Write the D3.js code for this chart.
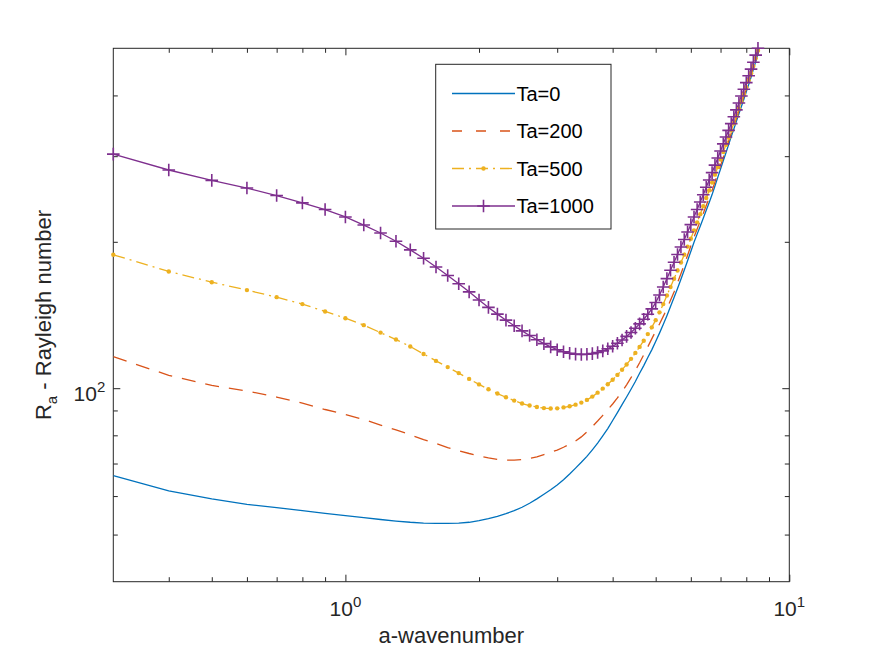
<!DOCTYPE html>
<html>
<head>
<meta charset="utf-8">
<script src="https://cdn.jsdelivr.net/npm/d3@7"></script>
<style>
  body { margin: 0; background: #ffffff; }
</style>
</head>
<body>
<div id="chart"></div>
<script>
//
// Rayleigh number vs wavenumber for four Taylor numbers (log-log)
//

////////////////////////////////////////////////////////////////////////
// Data

// wavenumbers a = 0.3 ... 8.6
let wavenumbers = [
  0.3, 0.4, 0.5, 0.6, 0.7, 0.8, 0.9, 1.0,
  1.1, 1.2, 1.3, 1.4, 1.5, 1.6, 1.7, 1.8, 1.9, 2.0,
  2.1, 2.2, 2.3, 2.4, 2.5, 2.6, 2.7, 2.8, 2.9, 3.0,
  3.1, 3.2, 3.3, 3.4, 3.5, 3.6, 3.7, 3.8, 3.9, 4.0,
  4.1, 4.2, 4.3, 4.4, 4.5, 4.6, 4.7, 4.8, 4.9, 5.0,
  5.1, 5.2, 5.3, 5.4, 5.5, 5.6, 5.7, 5.8, 5.9, 6.0,
  6.1, 6.2, 6.3, 6.4, 6.5, 6.6, 6.7, 6.8, 6.9, 7.0,
  7.1, 7.2, 7.3, 7.4, 7.5, 7.6, 7.7, 7.8, 7.9, 8.0,
  8.1, 8.2, 8.3, 8.4, 8.5, 8.6
];

let ra0 = [
  66.1, 61.5, 59.2, 57.7, 56.8, 56.0, 55.3, 54.7,
  54.2, 53.7, 53.3, 53.0, 52.8, 52.7, 52.7, 52.8, 53.0, 53.4,
  53.9, 54.5, 55.2, 56.0, 56.9, 58.0, 59.2, 60.5, 61.8, 63.2,
  64.8, 66.6, 68.5, 70.4, 72.4, 74.7, 77.1, 79.8, 82.6, 85.8,
  89.1, 92.5, 95.9, 99.5, 103.2, 107.3, 111.3, 115.6, 119.9, 124.7,
  129.8, 135.2, 141.0, 147.2, 153.6, 160.4, 167.5, 175.0, 182.9, 191.1,
  199.6, 207.4, 215.4, 223.7, 232.3, 241.0, 250.1, 260.5, 271.3, 282.4,
  293.5, 305.0, 317.0, 329.4, 341.3, 353.7, 366.5, 379.6, 392.9, 406.7,
  421.0, 435.9, 452.4, 469.5, 487.3, 505.8
];

let ra200 = [
  116.1, 106.3, 101.3, 98.7, 95.9, 93.2, 90.4, 88.3,
  86.2, 84.0, 82.1, 80.2, 78.4, 77.0, 75.5, 74.4, 73.4, 72.6,
  71.9, 71.4, 71.1, 71.1, 71.3, 71.7, 72.2, 73.0, 73.8, 74.6,
  75.6, 76.7, 77.9, 79.4, 81.3, 83.4, 85.6, 87.9, 90.3, 92.8,
  95.5, 98.4, 101.6, 105.1, 108.8, 112.8, 117.1, 121.6, 126.3, 131.0,
  135.5, 140.5, 145.7, 151.6, 157.7, 164.7, 171.9, 179.6, 187.6, 196.0,
  204.7, 212.6, 220.6, 228.8, 237.4, 246.1, 255.2, 265.5, 276.2, 287.2,
  298.3, 309.9, 321.9, 334.4, 346.3, 358.7, 371.5, 384.6, 398.0, 411.9,
  426.3, 441.3, 457.9, 475.1, 493.1, 511.8
];

let ra500 = [
  188.1, 173.8, 165.2, 159.1, 153.9, 148.9, 143.8, 139.3,
  134.8, 130.1, 125.9, 121.8, 117.6, 113.8, 110.5, 107.4, 104.5, 101.8,
  99.5, 97.5, 95.8, 94.3, 93.0, 92.1, 91.5, 91.0, 90.8, 90.9,
  91.3, 91.8, 92.5, 93.4, 94.6, 96.1, 97.9, 99.8, 101.9, 104.1,
  106.5, 109.1, 111.9, 114.9, 118.2, 121.6, 125.2, 129.2, 133.4, 138.0,
  143.2, 148.9, 155.1, 161.5, 167.9, 174.6, 181.3, 188.2, 195.5, 202.9,
  211.1, 219.3, 228.0, 236.8, 246.1, 255.1, 264.7, 274.9, 285.0, 295.2,
  305.9, 316.7, 327.5, 338.8, 350.7, 362.7, 375.6, 389.0, 402.1, 415.7,
  429.8, 444.4, 459.6, 477.0, 494.5, 512.5
];

let ra1000 = [
  303, 281, 267.5, 258, 249, 240.5, 233, 225,
  216.5, 208.5, 200.5, 192.5, 185, 177.5, 170.5, 164, 157.8, 151.8,
  146.6, 142.0, 138.0, 134.4, 131.2, 128.3, 125.8, 123.5, 121.6, 120.0,
  118.8, 118.0, 117.5, 117.3, 117.4, 117.8, 118.4, 119.3, 120.5, 122.0,
  123.7, 125.6, 127.8, 130.2, 132.8, 135.6, 138.6, 141.9, 145.6, 150.0,
  155.5, 161.5, 168, 174.8, 181.5, 188.3, 195.2, 202.2, 209.5, 217,
  225, 233, 241.5, 250, 259, 268, 277.5, 287.5, 297.5, 307.5,
  318, 328.5, 339, 350, 361.5, 373.5, 386, 399, 412, 425,
  439, 453, 468, 484, 500, 516
];

let seriesNames = ["Ta=0", "Ta=200", "Ta=500", "Ta=1000"];

// tick positions and labels (labels are written as 10^exp)
let xMajorTicks = [1, 10];
let xMajorExps = ["0", "1"];
let xMinorTicks = [0.4, 0.5, 0.6, 0.7, 0.8, 0.9, 2, 3, 4, 5, 6, 7, 8, 9];
let yMajorTicks = [100];
let yMajorExps = ["2"];
let yMinorTicks = [50, 60, 70, 80, 90, 200, 300, 400];


////////////////////////////////////////////////////////////////////////
// Global variables for the svg

let width = 872;
let height = 654;
let plotLeft = 113.3, plotRight = 789.3;
let plotTop = 48.3, plotBottom = 581.7;
let axisColor = "#262626";
let fontFamily = '"Liberation Sans", Arial, Helvetica, sans-serif';
let lineW = 1.3;

let svg = d3.select("#chart")
  .append("svg")
  .attr("width", width).attr("height", height)
  .style("font-family", fontFamily);

svg.append("rect")
  .attr("width", width).attr("height", height)
  .attr("fill", "#ffffff");

let xScale = d3.scaleLog()
  .domain([0.3, 10])
  .range([plotLeft, plotRight]);

let yScale = d3.scaleLog()
  .domain([40, 500])
  .range([plotBottom, plotTop]);

svg.append("defs").append("clipPath")
  .attr("id", "plotClip")
  .append("rect")
    .attr("x", plotLeft).attr("y", plotTop)
    .attr("width", plotRight - plotLeft)
    .attr("height", plotBottom - plotTop);


////////////////////////////////////////////////////////////////////////
// Ticks (drawn inward on all four sides, like a boxed matlab axes)

function drawTicks(axisFn, scale, values, size, transform) {
  let g = svg.append("g")
    .attr("transform", transform)
    .attr("color", axisColor)
    .call(axisFn(scale).tickValues(values).tickSizeInner(-size).tickSizeOuter(0).tickFormat(""));
  g.select(".domain").remove();
  g.selectAll("line").attr("stroke-width", 1);
}

drawTicks(d3.axisBottom, xScale, xMajorTicks, 7, "translate(0," + plotBottom + ")");
drawTicks(d3.axisBottom, xScale, xMinorTicks, 4.5, "translate(0," + plotBottom + ")");
drawTicks(d3.axisTop, xScale, xMajorTicks, 7, "translate(0," + plotTop + ")");
drawTicks(d3.axisTop, xScale, xMinorTicks, 4.5, "translate(0," + plotTop + ")");
drawTicks(d3.axisLeft, yScale, yMajorTicks, 7, "translate(" + plotLeft + ",0)");
drawTicks(d3.axisLeft, yScale, yMinorTicks, 4.5, "translate(" + plotLeft + ",0)");
drawTicks(d3.axisRight, yScale, yMajorTicks, 7, "translate(" + plotRight + ",0)");
drawTicks(d3.axisRight, yScale, yMinorTicks, 4.5, "translate(" + plotRight + ",0)");

// box around the plot area
svg.append("rect")
  .attr("x", plotLeft).attr("y", plotTop)
  .attr("width", plotRight - plotLeft)
  .attr("height", plotBottom - plotTop)
  .attr("fill", "none")
  .attr("stroke", axisColor)
  .attr("stroke-width", 1);

// tick labels, 10 with a raised exponent
let xLabels = svg.selectAll(".xlabel")
  .data(xMajorTicks)
  .enter()
  .append("text")
  .attr("class", "xlabel")
  .attr("x", function(d) { return xScale(d); })
  .attr("y", 616)
  .attr("text-anchor", "middle")
  .attr("fill", axisColor)
  .style("font-size", "21px");
xLabels.append("tspan").text("10");
xLabels.append("tspan")
  .attr("dy", -9)
  .style("font-size", "15px")
  .text(function(d, i) { return xMajorExps[i]; });

let yLabels = svg.selectAll(".ylabel")
  .data(yMajorTicks)
  .enter()
  .append("text")
  .attr("class", "ylabel")
  .attr("x", plotLeft - 8)
  .attr("y", function(d) { return yScale(d) + 13; })
  .attr("text-anchor", "end")
  .attr("fill", axisColor)
  .style("font-size", "21px");
yLabels.append("tspan").text("10");
yLabels.append("tspan")
  .attr("dy", -9)
  .style("font-size", "15px")
  .text(function(d, i) { return yMajorExps[i]; });

// axis titles
svg.append("text")
  .attr("x", (plotLeft + plotRight) / 2)
  .attr("y", 643)
  .attr("text-anchor", "middle")
  .attr("fill", axisColor)
  .style("font-size", "22px")
  .text("a-wavenumber");

let yTitle = svg.append("text")
  .attr("transform", "translate(51," + ((plotTop + plotBottom) / 2) + ") rotate(-90)")
  .attr("text-anchor", "middle")
  .attr("fill", axisColor)
  .style("font-size", "22px");
yTitle.append("tspan").text("R");
yTitle.append("tspan").attr("dy", 6).style("font-size", "15px").text("a");
yTitle.append("tspan").attr("dy", -6).text(" - Rayleigh number");


////////////////////////////////////////////////////////////////////////
// Curves

let series = [
  { name: seriesNames[0], values: ra0,    color: "#0072BD", dash: null,         marker: null },
  { name: seriesNames[1], values: ra200,  color: "#D95319", dash: "14,10",      marker: null },
  { name: seriesNames[2], values: ra500,  color: "#EDB120", dash: "12,5,2,5",   marker: "dot" },
  { name: seriesNames[3], values: ra1000, color: "#7E2F8E", dash: null,         marker: "plus" }
];

let line = d3.line()
  .x(function(d, i) { return xScale(wavenumbers[i]); })
  .y(function(d) { return yScale(d); });

svg.append("g")
  .attr("clip-path", "url(#plotClip)")
  .selectAll(".datapath")
  .data(series)
  .enter()
  .append("path")
  .attr("class", "datapath")
  .attr("d", function(s) { return line(s.values); })
  .style("fill", "none")
  .style("stroke", function(s) { return s.color; })
  .style("stroke-width", lineW)
  .style("stroke-dasharray", function(s) { return s.dash; });

// plus sign of a given half size centered at (0,0)
function plusPath(r) {
  return "M" + (-r) + ",0H" + r + "M0," + (-r) + "V" + r;
}

// markers only where the point itself lies inside the axes
function inside(v, i) {
  return wavenumbers[i] <= 10 && v >= 40 && v <= 500;
}

series.forEach(function(s) {
  if (s.marker == null) { return; }
  let pts = s.values
    .map(function(v, i) { return { a: wavenumbers[i], v: v, ok: inside(v, i) }; })
    .filter(function(p) { return p.ok; });

  if (s.marker == "dot") {
    svg.append("g").selectAll("circle")
      .data(pts)
      .enter()
      .append("circle")
      .attr("cx", function(p) { return xScale(p.a); })
      .attr("cy", function(p) { return yScale(p.v); })
      .attr("r", 2.2)
      .style("fill", s.color);
  } else {
    svg.append("g").selectAll("path")
      .data(pts)
      .enter()
      .append("path")
      .attr("transform", function(p) { return "translate(" + xScale(p.a) + "," + yScale(p.v) + ")"; })
      .attr("d", plusPath(6.3))
      .style("fill", "none")
      .style("stroke", s.color)
      .style("stroke-width", 1.6);
  }
});


////////////////////////////////////////////////////////////////////////
// Legend

let legendX = 435.7, legendY = 64.3, legendW = 175.3, legendH = 164.7;
let rowY0 = 93.5, rowStep = 37.5;

let legend = svg.append("g").attr("class", "legend");

legend.append("rect")
  .attr("x", legendX).attr("y", legendY)
  .attr("width", legendW).attr("height", legendH)
  .attr("fill", "#ffffff")
  .attr("stroke", axisColor)
  .attr("stroke-width", 1);

let rows = legend.selectAll(".legendrow")
  .data(series)
  .enter()
  .append("g")
  .attr("class", "legendrow")
  .attr("transform", function(s, i) { return "translate(0," + (rowY0 + i * rowStep) + ")"; });

rows.append("line")
  .attr("x1", 452).attr("x2", 515)
  .attr("y1", 0).attr("y2", 0)
  .style("stroke", function(s) { return s.color; })
  .style("stroke-width", lineW)
  .style("stroke-dasharray", function(s) { return s.dash == "14,10" ? "10,14" : s.dash; });

rows.filter(function(s) { return s.marker == "dot"; })
  .append("circle")
  .attr("cx", 483.5).attr("cy", 0).attr("r", 2.2)
  .style("fill", function(s) { return s.color; });

rows.filter(function(s) { return s.marker == "plus"; })
  .append("path")
  .attr("transform", "translate(483.5,0)")
  .attr("d", plusPath(6.3))
  .style("fill", "none")
  .style("stroke", function(s) { return s.color; })
  .style("stroke-width", 1.6);

rows.append("text")
  .attr("x", 516.5)
  .attr("y", 7)
  .attr("fill", "#000000")
  .style("font-size", "20px")
  .text(function(s) { return s.name; });
</script>
</body>
</html>
